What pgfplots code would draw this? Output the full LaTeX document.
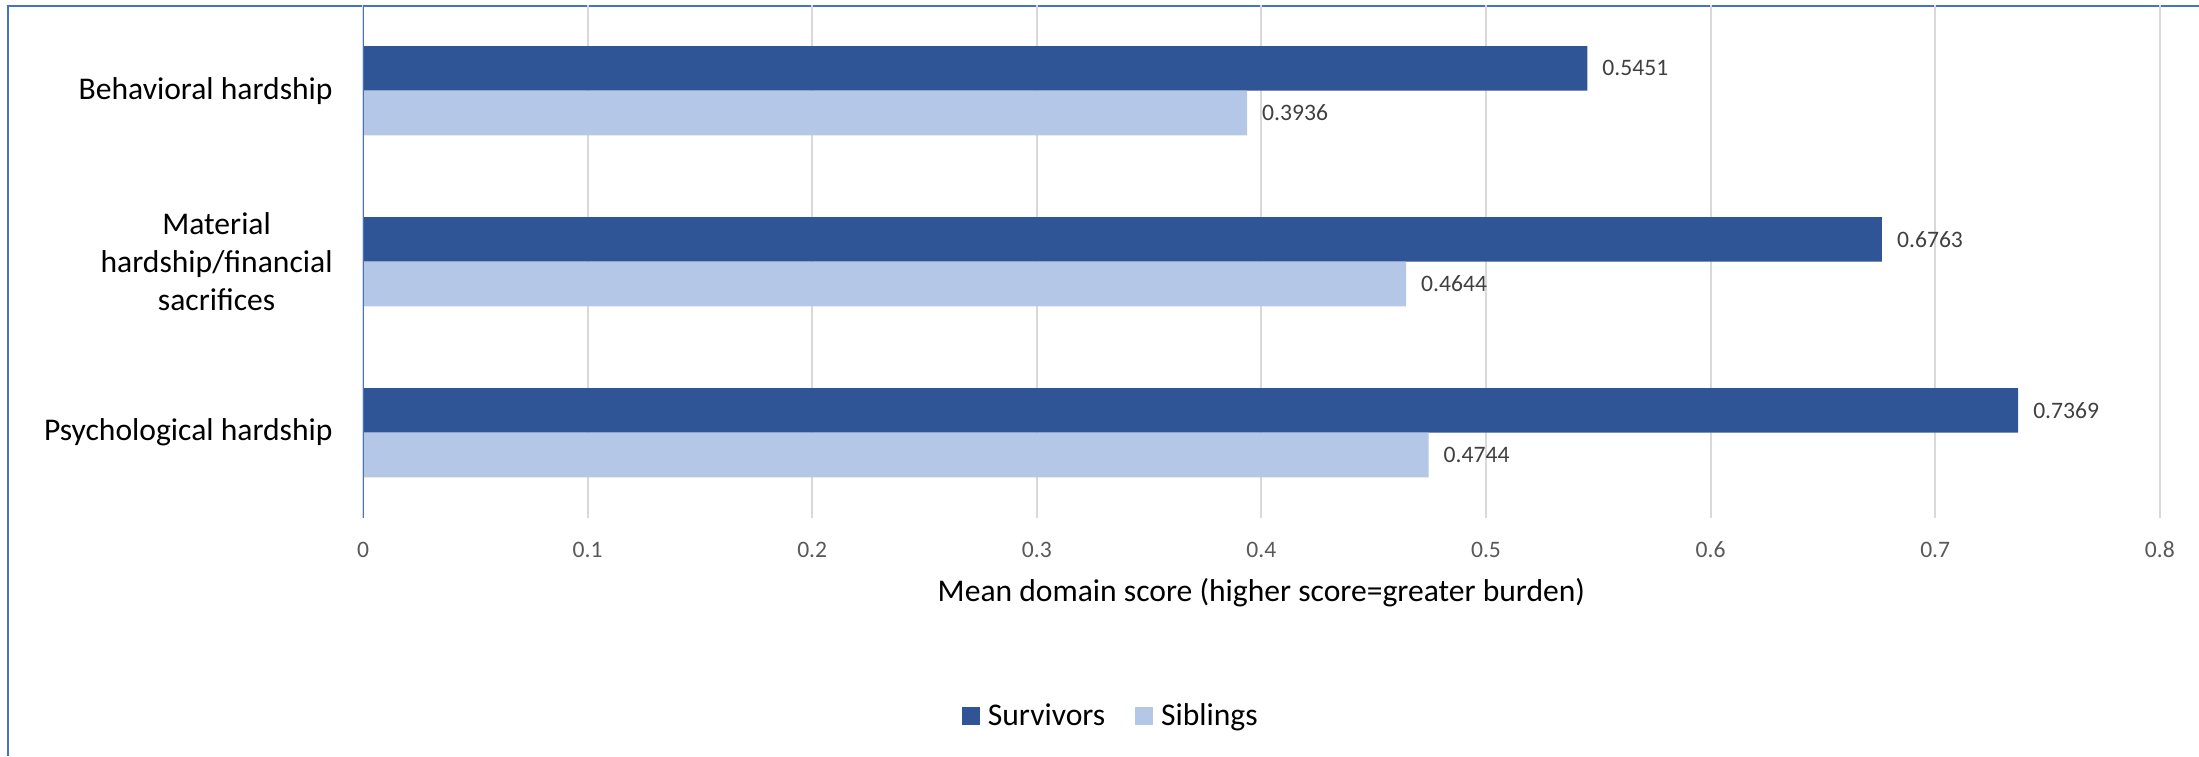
\documentclass[border=0pt]{standalone}
\usepackage{fontspec}
\setmainfont{Carlito}
\usepackage{pgfplots}
\pgfplotsset{compat=1.18}

\definecolor{survblue}{HTML}{2F5597}
\definecolor{sibblue}{HTML}{B4C7E7}
\definecolor{frameblue}{HTML}{4472C4}
\definecolor{gridgray}{HTML}{D9D9D9}
\definecolor{tickgray}{HTML}{595959}
\definecolor{labelgray}{HTML}{404040}

\begin{document}
\begin{tikzpicture}
\useasboundingbox (0,0) rectangle (1099.5pt,378pt);
% chart frame (left and top edges)
\draw[frameblue, line width=1pt] (4.2pt,0) -- (4.2pt,375.2pt) -- (1099.5pt,375.2pt);
\begin{axis}[
  at={(181.5pt,118.9pt)}, anchor=south west,
  scale only axis, width=898.4pt, height=256.5pt,
  xbar, bar width=22.3pt,
  xmin=0, xmax=0.8, ymin=-0.5, ymax=2.5,
  xtick={0,0.1,0.2,0.3,0.4,0.5,0.6,0.7,0.8},
  ytick={0,1,2},
  yticklabels={Psychological hardship, {Material\\hardship/financial\\sacrifices}, Behavioral hardship},
  axis line style={draw=none},
  major tick length=0pt,
  xmajorgrids, ymajorgrids=false,
  major grid style={gridgray, line width=1pt},
  /pgf/number format/assume math mode=true,
  xticklabel style={font=\fontsize{11.8}{14}\selectfont, text=tickgray, anchor=base, yshift=-19.6pt},
  yticklabel style={font=\fontsize{15.8}{19.2}\selectfont, text=black, align=center, anchor=east, inner sep=0pt, xshift=-15pt},
  xlabel={Mean domain score (higher score=greater burden)},
  xlabel style={font=\fontsize{15.8}{19}\selectfont, at={(axis description cs:0.5,0)}, anchor=base, yshift=-41.7pt, inner sep=0pt},
  nodes near coords={\pgfmathprintnumber[fixed,precision=4,zerofill]{\pgfplotspointmeta}},
  every node near coord/.append style={font=\fontsize{11.8}{14}\selectfont, text=labelgray, anchor=west, inner sep=0pt, xshift=7.4pt},
  legend columns=2,
  legend style={draw=none, fill=none, at={(0.4157,-0.3856)}, anchor=center,
    font=\fontsize{15.8}{19}\selectfont, nodes={inner sep=0pt},
    /tikz/every even column/.append style={column sep=15pt}},
  legend image code/.code={\fill[#1] (0pt,-4.45pt) rectangle (8.9pt,4.45pt); \path (12.9pt,0);},
]
% domains from bottom to top: Psychological, Material, Behavioral
\addplot[fill=survblue, draw=none, bar shift=11.15pt] coordinates {(0.7369,0) (0.6763,1) (0.5451,2)};
\addplot[fill=sibblue, draw=none, bar shift=-11.15pt] coordinates {(0.4744,0) (0.4644,1) (0.3936,2)};
\legend{Survivors, Siblings}
% value axis line at zero
\draw[frameblue, line width=1pt] (axis cs:0,-0.5) -- (axis cs:0,2.5);
\end{axis}
\end{tikzpicture}
\end{document}
